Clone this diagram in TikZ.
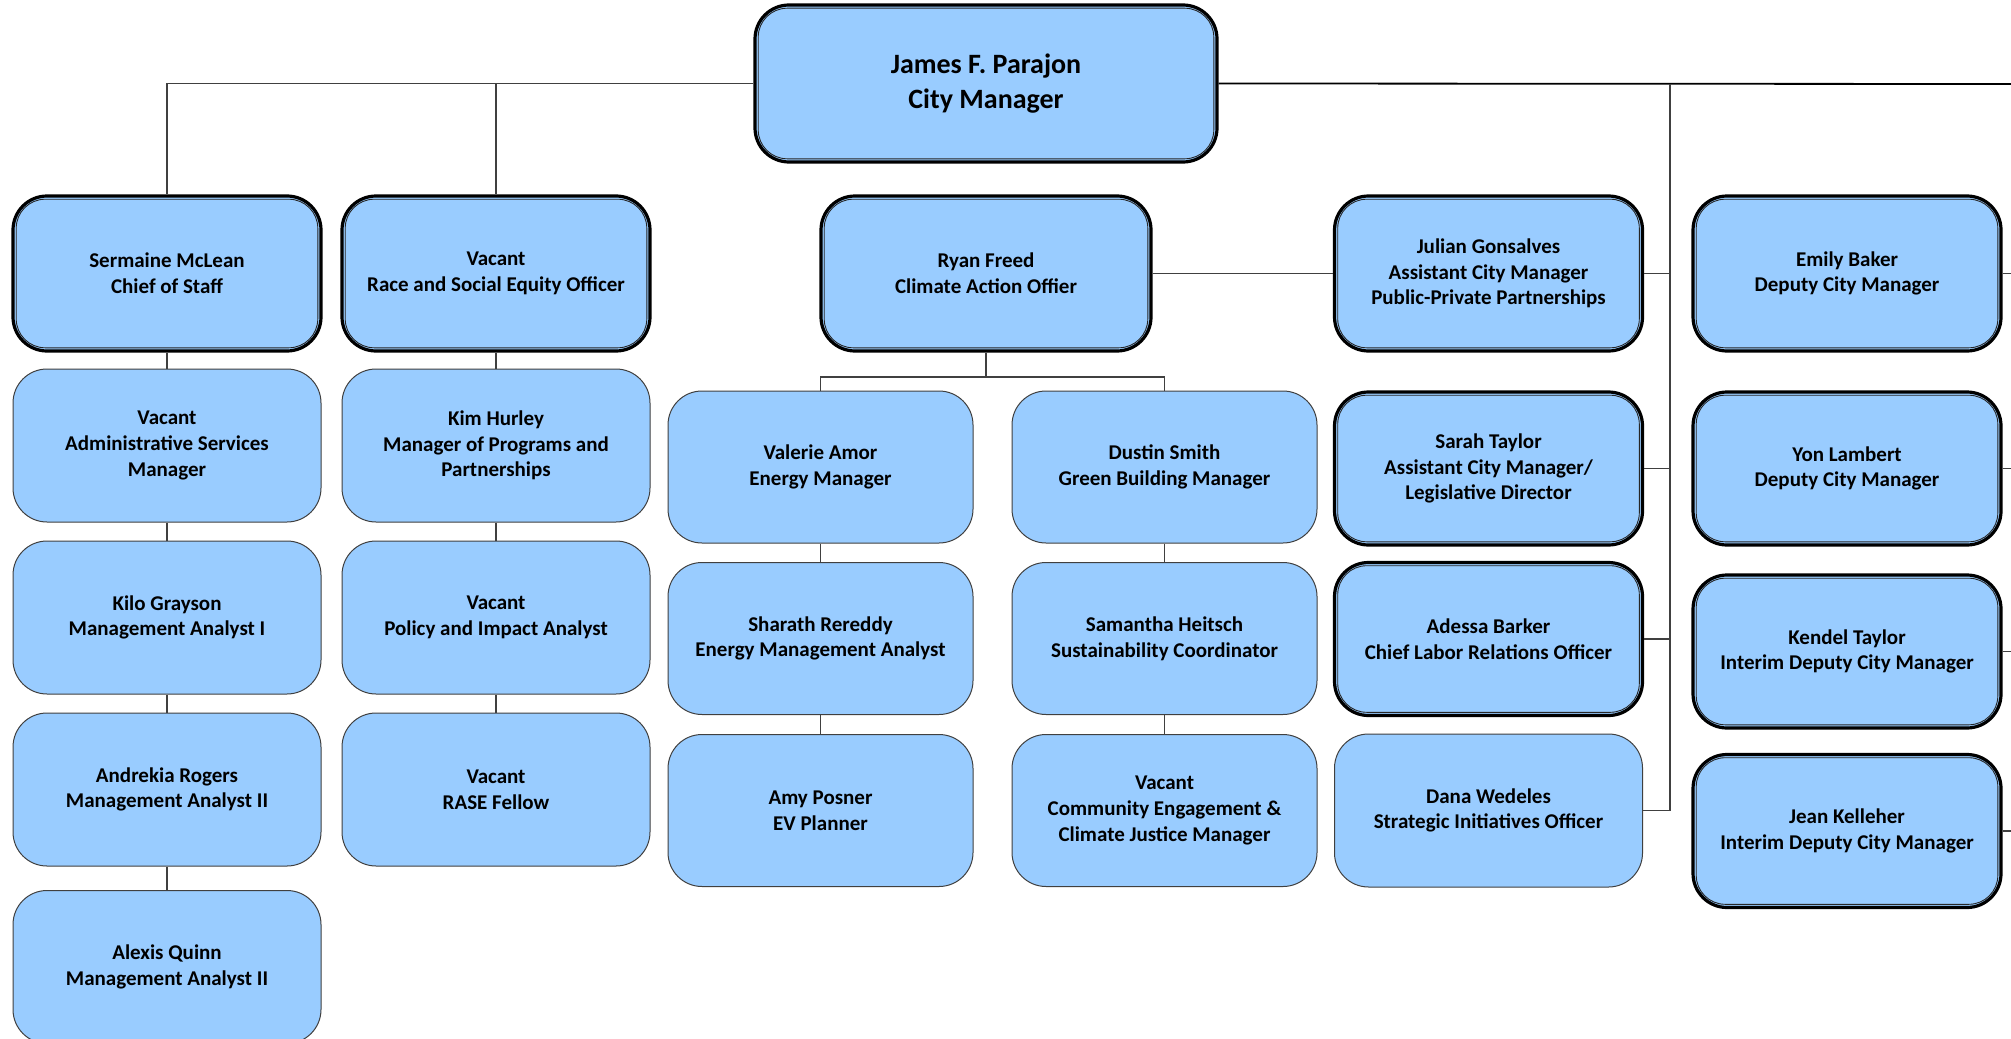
\documentclass[tikz,border=0pt]{standalone}
\usepackage{fontspec}
\setmainfont{Carlito}
\begin{document}
\begin{tikzpicture}[x=0.5pt,y=-0.5pt,
  base/.style={rectangle, rounded corners=17pt, fill=boxblue, align=center,
    inner sep=0pt, font=\fontsize{10.5}{12.8}\selectfont\bfseries,
    minimum width=154pt, minimum height=76.5pt},
  sbox/.style={base, draw=black!75, line width=0.5pt},
  dbox/.style={base, draw=black, line width=1.6pt},
  innerline/.style={draw=black!85, line width=0.45pt, rounded corners=14.5pt},
  conn/.style={draw=black!75, line width=0.6pt},
  connthick/.style={draw=black, line width=0.9pt}]
\definecolor{boxblue}{RGB}{153,204,255}
\useasboundingbox (0,0) rectangle (2011,1038);
\fill[white] (0,0) rectangle (2011,1038);

% coordinates for free ends
\coordinate (redge) at (2011,84);
\coordinate (vtop) at (1670,84);
\coordinate (rbr) at (986,377);

% top
\node[dbox, minimum width=231pt, minimum height=78.5pt,
  font=\fontsize{14}{17.5}\selectfont\bfseries] (top) at (986,83.5)
  {James F. Parajon\\City Manager};

% row 1
\node[dbox, minimum height=77.5pt] (sermaine) at (167,273.5) {Sermaine McLean\\Chief of Staff};
\node[dbox, minimum height=77.5pt] (rasehead) at (496,273.5) {Vacant\\Race and Social Equity Officer};
\node[dbox, minimum height=77.5pt, minimum width=165pt] (ryan) at (986,273.5) {Ryan Freed\\Climate Action Offier};
\node[dbox, minimum height=77.5pt] (julian) at (1488.5,273.5) {Julian Gonsalves\\Assistant City Manager\\Public-Private Partnerships};
\node[dbox, minimum height=77.5pt] (emily) at (1847,273.5) {Emily Baker\\Deputy City Manager};

% column 1
\node[sbox] (admin) at (167,445.5) {Vacant\\Administrative Services\\Manager};
\node[sbox] (kilo) at (167,617.5) {Kilo Grayson\\Management Analyst I};
\node[sbox] (andrekia) at (167,789.5) {Andrekia Rogers\\Management Analyst II};
\node[sbox] (alexis) at (167,967) {Alexis Quinn\\Management Analyst II};

% column 2
\node[sbox] (kim) at (496,445.5) {Kim Hurley\\Manager of Programs and\\Partnerships};
\node[sbox] (policy) at (496,617.5) {Vacant\\Policy and Impact Analyst};
\node[sbox] (fellow) at (496,789.5) {Vacant\\RASE Fellow};

% climate subtree
\node[sbox, minimum width=152.5pt, minimum height=76pt] (valerie) at (820.5,467) {Valerie Amor\\Energy Manager};
\node[sbox, minimum width=152.5pt, minimum height=76pt] (sharath) at (820.5,638.5) {Sharath Rereddy\\Energy Management Analyst};
\node[sbox, minimum width=152.5pt, minimum height=76pt] (amy) at (820.5,810.5) {Amy Posner\\EV Planner};
\node[sbox, minimum width=152.5pt, minimum height=76pt] (dustin) at (1164.5,467) {Dustin Smith\\Green Building Manager};
\node[sbox, minimum width=152.5pt, minimum height=76pt] (samantha) at (1164.5,638.5) {Samantha Heitsch\\Sustainability Coordinator};
\node[sbox, minimum width=152.5pt, minimum height=76pt] (cejm) at (1164.5,810.5) {Vacant\\Community Engagement \&\\Climate Justice Manager};

% julian column
\node[dbox] (sarah) at (1488.5,468.5) {Sarah Taylor\\Assistant City Manager/\\Legislative Director};
\node[dbox] (adessa) at (1488.5,639) {Adessa Barker\\Chief Labor Relations Officer};
\node[sbox] (dana) at (1488.5,810.5) {Dana Wedeles\\Strategic Initiatives Officer};

% emily column
\node[dbox] (yon) at (1847,468.5) {Yon Lambert\\Deputy City Manager};
\node[dbox] (kendel) at (1847,651.5) {Kendel Taylor\\Interim Deputy City Manager};
\node[dbox] (jean) at (1847,831) {Jean Kelleher\\Interim Deputy City Manager};

% inner lines of double boxes
\foreach \n in {top,sermaine,rasehead,ryan,julian,emily,sarah,adessa,yon,kendel,jean}
  \draw[innerline] ([shift={(2.4pt,2.4pt)}]\n.south west) rectangle ([shift={(-2.4pt,-2.4pt)}]\n.north east);

% connectors from the top
\draw[conn] (top.west) -| (sermaine.north);
\draw[conn] (top.west -| rasehead.north) -- (rasehead.north);
\draw[connthick] (top.east) -- (redge);
\draw[conn] (vtop) |- (dana.east);
\draw[conn] (julian.east) -- (julian.east -| vtop);
\draw[conn] (sarah.east) -- (sarah.east -| vtop);
\draw[conn] (adessa.east) -- (adessa.east -| vtop);
\draw[conn] (emily.east) -- (emily.east -| redge);
\draw[conn] (yon.east) -- (yon.east -| redge);
\draw[conn] (kendel.east) -- (kendel.east -| redge);
\draw[conn] (jean.east) -- (jean.east -| redge);

% chains
\draw[conn] (sermaine.south) -- (admin.north);
\draw[conn] (admin.south) -- (kilo.north);
\draw[conn] (kilo.south) -- (andrekia.north);
\draw[conn] (andrekia.south) -- (alexis.north);
\draw[conn] (rasehead.south) -- (kim.north);
\draw[conn] (kim.south) -- (policy.north);
\draw[conn] (policy.south) -- (fellow.north);
\draw[conn] (ryan.east) -- (julian.west);
\draw[conn] (ryan.south) -- (rbr);
\draw[conn] (valerie.north) -- (valerie.north |- rbr) -- (dustin.north |- rbr) -- (dustin.north);
\draw[conn] (valerie.south) -- (sharath.north);
\draw[conn] (sharath.south) -- (amy.north);
\draw[conn] (dustin.south) -- (samantha.north);
\draw[conn] (samantha.south) -- (cejm.north);
\end{tikzpicture}
\end{document}
